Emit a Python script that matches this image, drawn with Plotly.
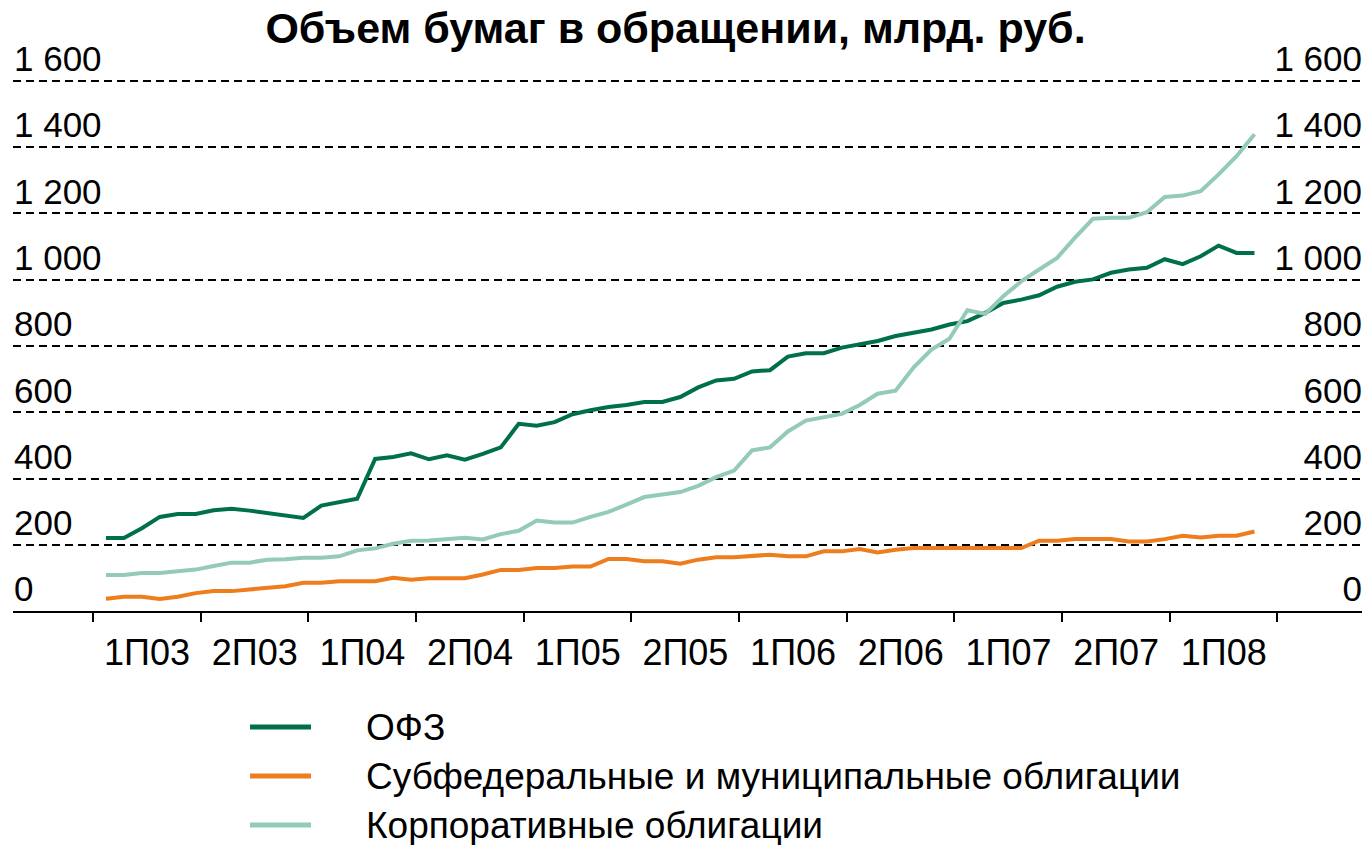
import numpy as np
import plotly.graph_objects as go

# ---- data -------------------------------------------------------------
halves = ["1П03", "2П03", "1П04", "2П04", "1П05", "2П05",
          "1П06", "2П06", "1П07", "2П07", "1П08"]

ofz = [220, 220, 250, 284, 293, 293, 304, 309, 303, 296, 286, 281,
       318, 328, 339, 459, 465, 476, 458, 470, 457, 474, 494, 565,
       559, 570, 594, 606, 616, 622, 631, 631, 646, 675, 696, 701,
       723, 727, 768, 778, 778, 795, 806, 815, 830, 840, 850, 865,
       875, 900, 930, 940, 953, 979, 994, 1001, 1021, 1031, 1036, 1062,
       1047, 1071, 1103, 1081, 1081]

subfed = [37, 43, 43, 36, 43, 54, 60, 60, 65, 70, 75, 85,
          85, 90, 90, 90, 100, 94, 99, 99, 99, 110, 124, 124,
          130, 130, 134, 134, 157, 157, 150, 150, 143, 155, 162, 162,
          167, 170, 165, 165, 180, 180, 187, 177, 185, 190, 190, 190,
          190, 190, 190, 190, 212, 212, 217, 217, 217, 210, 210, 217,
          227, 222, 227, 227, 240]

corp = [109, 109, 115, 115, 120, 125, 136, 146, 146, 155, 156, 161,
        161, 165, 183, 189, 203, 212, 213, 217, 221, 216, 232, 242,
        273, 267, 267, 284, 299, 321, 344, 352, 359, 378, 404, 424,
        485, 494, 542, 575, 585, 595, 622, 656, 665, 735, 789, 822,
        908, 897, 950, 995, 1031, 1066, 1127, 1184, 1187, 1187, 1204, 1250,
        1254, 1267, 1318, 1373, 1439]

names = ["ОФЗ", "Субфедеральные и муниципальные облигации", "Корпоративные облигации"]
colors = ["#00704C", "#EE7D1D", "#94CAB8"]
title = "Объем бумаг в обращении, млрд. руб."

# monthly observations, months counted from the start of 1П03
month_pos = np.arange(len(ofz)) + 0.72
half_bounds = [6 * k for k in range(len(halves) + 1)]

# ---- geometry (pixels) ---------------------------------------------------
W, H = 1365, 845
PL, PR, PT, PB = 13, 1362, 79, 611
FONT = "Liberation Sans, Arial, sans-serif"


def px(x):
    return (x - PL) / (PR - PL)


def py(y):
    return (PB - y) / (PB - PT)


fig = go.Figure()
series = [ofz, subfed, corp]
axes = ["y", "y2", "y3"]
for vals, name, color, ax in zip(series, names, colors, axes):
    fig.add_trace(go.Scatter(x=month_pos, y=vals, mode="lines", name=name,
                             line=dict(color=color, width=4),
                             showlegend=False, yaxis=ax, hoverinfo="skip"))

tickfont = dict(family=FONT, size=35, color="black")
yrange = [0, 1606]
label_axis = dict(range=yrange, overlaying="y", anchor="free",
                  tickmode="linear", tick0=0, dtick=200, showgrid=False,
                  zeroline=False, ticks="", ticklabelshift=-22,
                  tickformat=",d", tickfont=tickfont, showline=False)

fig.update_layout(
    width=W, height=H, autosize=False,
    margin=dict(l=PL, r=W - PR, t=PT, b=H - PB, pad=0),
    paper_bgcolor="white", plot_bgcolor="white",
    separators=", ",
    font=dict(family=FONT, color="black"),
    title=dict(text="<b>" + title + "</b>", x=675.5 / W, xanchor="center",
               y=1 - 27.5 / H, yanchor="middle", xref="container",
               yref="container",
               font=dict(family=FONT, size=43, color="black")),
    xaxis=dict(range=[-4.46, 70.71], tickmode="array",
               tickvals=half_bounds, ticktext=halves + [""],
               ticks="outside", ticklen=9, tickwidth=1.5, tickcolor="black",
               ticklabelshift=54, ticklabelstandoff=0,
               showline=True, linecolor="black", linewidth=1.5,
               showgrid=False, zeroline=False,
               tickfont=dict(family=FONT, size=36, color="black")),
    yaxis=dict(range=yrange, tickmode="linear", tick0=0, dtick=200,
               showgrid=True, gridcolor="black", gridwidth=1.5,
               griddash="8px,5px", zeroline=False, ticks="",
               showticklabels=False, showline=False),
    yaxis2=dict(label_axis, side="right", position=0),
    yaxis3=dict(label_axis, side="left", position=1),
)

# ---- legend (drawn by hand, long line keys) ----------------------------
for i, (name, color) in enumerate(zip(names, colors)):
    yy = 727 + 49 * i
    fig.add_shape(type="line", xref="paper", yref="paper",
                  x0=px(250), x1=px(311), y0=py(yy), y1=py(yy),
                  line=dict(color=color, width=5))
    fig.add_annotation(text=name, xref="paper", yref="paper",
                       x=px(364), y=py(yy), xanchor="left", yanchor="middle",
                       showarrow=False,
                       font=dict(family=FONT, size=37, color="black"))

fig.write_html("out.html",
               config={"displayModeBar": False},
               post_script="document.body.style.margin='0';"
                           "document.body.style.overflow='hidden';")
